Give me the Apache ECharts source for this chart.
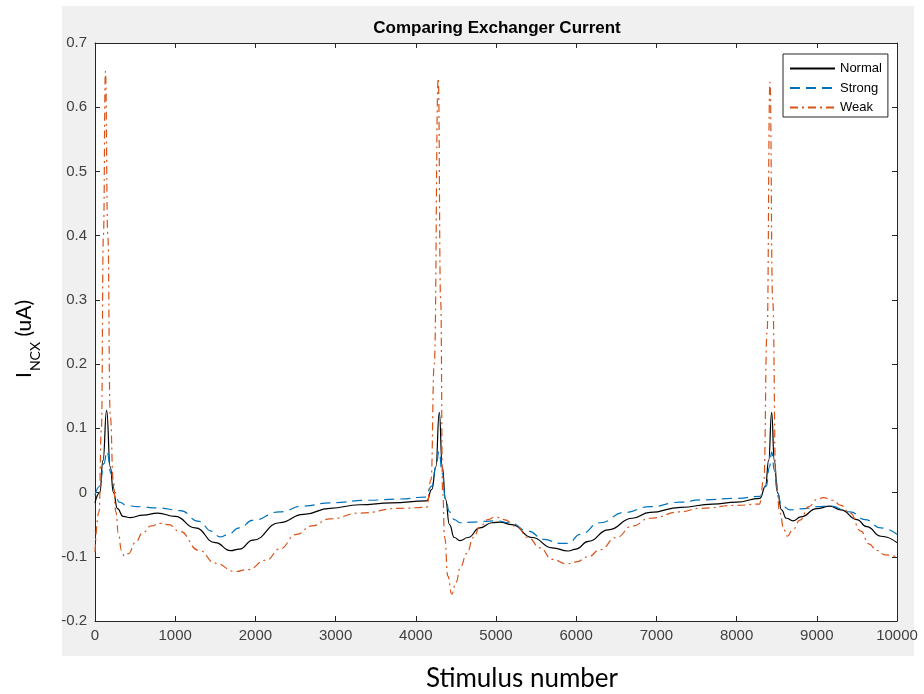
<!DOCTYPE html>
<html>
<head>
<meta charset="utf-8">
<title>Comparing Exchanger Current</title>
<script src="https://cdn.jsdelivr.net/npm/echarts@6/dist/echarts.min.js"></script>
<style>
  html, body { margin: 0; padding: 0; background: #fff; }
  #chart { width: 924px; height: 694px; }
</style>
</head>
<body>
<div id="chart"></div>
<script>
// Exchanger current (I_NCX, uA) versus stimulus number for three exchanger strengths.
const seriesNames = ['Normal', 'Strong', 'Weak'];

const normalX = [0, 60, 100, 145, 190, 230, 280, 350, 440, 600, 780, 1000, 1250, 1500, 1690, 1800, 1970, 2300, 2600, 2930, 3300, 3700, 4136, 4200, 4250, 4293, 4330, 4370, 4420, 4480, 4551, 4650, 4800, 4950, 5050, 5200, 5450, 5700, 5900, 6000, 6150, 6400, 6700, 6920, 7300, 7700, 8000, 8292, 8360, 8400, 8437, 8470, 8510, 8560, 8620, 8707, 8800, 9000, 9164, 9300, 9500, 9622, 9800, 10000];
const normalY = [-0.016, 0.0, 0.05, 0.128, 0.04, 0.0, -0.025, -0.037, -0.039, -0.035, -0.032, -0.037, -0.055, -0.078, -0.0905, -0.088, -0.074, -0.047, -0.034, -0.0245, -0.019, -0.016, -0.013, 0.005, 0.04, 0.125, 0.04, -0.01, -0.05, -0.07, -0.075, -0.07, -0.055, -0.047, -0.046, -0.05, -0.07, -0.086, -0.091, -0.088, -0.076, -0.058, -0.04, -0.031, -0.023, -0.018, -0.015, -0.009, 0.01, 0.05, 0.125, 0.05, 0.0, -0.027, -0.04, -0.044, -0.038, -0.025, -0.021, -0.027, -0.042, -0.053, -0.068, -0.078];

const strongX = [0, 60, 110, 150, 200, 250, 300, 400, 520, 800, 1060, 1300, 1450, 1559, 1650, 1800, 1970, 2300, 2600, 2930, 3400, 3803, 4115, 4200, 4250, 4290, 4330, 4370, 4420, 4480, 4551, 4700, 4838, 5000, 5174, 5400, 5600, 5800, 5900, 6050, 6297, 6600, 6920, 7300, 7544, 8000, 8292, 8370, 8410, 8437, 8470, 8510, 8560, 8666, 8850, 9000, 9164, 9414, 9600, 9800, 10000];
const strongY = [-0.004, 0.01, 0.045, 0.064, 0.03, 0.0, -0.015, -0.02, -0.022, -0.024, -0.028, -0.045, -0.06, -0.069, -0.066, -0.055, -0.043, -0.03, -0.021, -0.016, -0.012, -0.01, -0.007, 0.01, 0.04, 0.064, 0.03, -0.01, -0.03, -0.042, -0.047, -0.046, -0.045, -0.044, -0.047, -0.06, -0.073, -0.079, -0.079, -0.065, -0.047, -0.031, -0.022, -0.015, -0.0115, -0.009, -0.006, 0.01, 0.04, 0.063, 0.035, 0.0, -0.02, -0.027, -0.025, -0.022, -0.021, -0.03, -0.042, -0.055, -0.065];

const weakX = [0, 50, 80, 105, 130, 160, 190, 228, 260, 291, 330, 366, 420, 500, 600, 700, 810, 920, 1050, 1300, 1500, 1746, 1900, 2141, 2300, 2515, 2700, 2930, 3300, 3803, 4136, 4190, 4230, 4280, 4310, 4335, 4360, 4400, 4448, 4500, 4560, 4634, 4720, 4800, 4900, 4988, 5100, 5258, 5400, 5549, 5700, 5881, 6000, 6150, 6297, 6500, 6700, 6920, 7300, 7544, 8000, 8283, 8340, 8380, 8416, 8450, 8490, 8541, 8590, 8632, 8700, 8790, 8900, 9000, 9081, 9200, 9300, 9414, 9550, 9650, 9747, 9850, 10000];
const weakY = [-0.093, -0.03, 0.1, 0.4, 0.656, 0.4, 0.12, 0.02, -0.03, -0.063, -0.09, -0.099, -0.095, -0.078, -0.062, -0.052, -0.048, -0.05, -0.06, -0.09, -0.11, -0.123, -0.12, -0.105, -0.088, -0.065, -0.052, -0.041, -0.032, -0.0245, -0.023, 0.02, 0.2, 0.645, 0.3, 0.0, -0.07, -0.13, -0.158, -0.14, -0.115, -0.095, -0.07, -0.053, -0.042, -0.038, -0.042, -0.053, -0.07, -0.086, -0.104, -0.111, -0.108, -0.1, -0.089, -0.07, -0.052, -0.04, -0.03, -0.0245, -0.02, -0.018, 0.02, 0.25, 0.639, 0.3, 0.02, -0.032, -0.058, -0.068, -0.058, -0.043, -0.022, -0.011, -0.008, -0.012, -0.02, -0.032, -0.06, -0.08, -0.09, -0.097, -0.1];

const xMin = 0, xMax = 10000, xStep = 1000;
const yMin = -0.2, yMax = 0.7, yStep = 0.1;

const titleText = 'Comparing Exchanger Current';
const xAxisTitle = 'Stimulus number';

const pairs = (xs, ys) => xs.map((x, i) => [x, ys[i]]);

const chart = echarts.init(document.getElementById('chart'), null, { renderer: 'canvas' });

const grid = { left: 95, right: 27, top: 43, bottom: 73 };
const plotCenterX = grid.left + (924 - grid.left - grid.right) / 2;

// canvas text measurement for the composed y-axis title
const measureCtx = document.createElement('canvas').getContext('2d');
function textWidth(str, font) { measureCtx.font = font; return measureCtx.measureText(str).width; }

const bigFont = '21px Lato';
const subFont = '14px Lato';
const wI = textWidth('I', bigFont);
const wSub = textWidth('NCX', subFont);

const axisColor = '#262626';
const tickLabel = { fontFamily: 'Liberation Sans, Arial, sans-serif', fontSize: 15, color: '#404040' };

function boxAxis(base, extra) { return Object.assign({}, base, extra); }

const xBase = {
  type: 'value', min: xMin, max: xMax, interval: xStep,
  axisLine: { show: true, onZero: false, lineStyle: { color: axisColor, width: 1 } },
  axisTick: { show: true, inside: true, length: 5, lineStyle: { color: axisColor } },
  splitLine: { show: false }
};
const yBase = {
  type: 'value', min: yMin, max: yMax, interval: yStep,
  axisLine: { show: true, onZero: false, lineStyle: { color: axisColor, width: 1 } },
  axisTick: { show: true, inside: true, length: 5, lineStyle: { color: axisColor } },
  splitLine: { show: false }
};

const option = {
  backgroundColor: '#ffffff',
  animation: false,
  grid: Object.assign({ show: true, backgroundColor: '#ffffff', borderWidth: 0 }, grid),
  xAxis: [
    boxAxis(xBase, { position: 'bottom', axisLabel: Object.assign({ margin: 7, formatter: v => String(v) }, tickLabel) }),
    boxAxis(xBase, { position: 'top', axisLabel: { show: false } })
  ],
  yAxis: [
    boxAxis(yBase, { position: 'left', axisLabel: Object.assign({ margin: 8, formatter: v => String(Number(v.toFixed(1))) }, tickLabel) }),
    boxAxis(yBase, { position: 'right', axisLabel: { show: false } })
  ],
  legend: {
    show: true, orient: 'vertical', left: 783, top: 54, z: 10,
    padding: [8, 6, 3, 6], itemGap: 6.5, itemWidth: 45, itemHeight: 14,
    itemStyle: { opacity: 0 },
    backgroundColor: '#ffffff', borderColor: axisColor, borderWidth: 1, borderRadius: 0,
    textStyle: { fontFamily: 'Liberation Sans, Arial, sans-serif', fontSize: 13, color: '#000' },
    data: seriesNames
  },
  graphic: [
    { type: 'rect', z: -100, silent: true, shape: { x: 62, y: 6, width: 852, height: 650 }, style: { fill: '#f0f0f0' } },
    { type: 'text', x: plotCenterX + 1, y: 28, silent: true,
      style: { text: titleText, font: 'bold 17px Liberation Sans, Arial, sans-serif', fill: '#000', textAlign: 'center', textVerticalAlign: 'middle' } },
    { type: 'text', x: 522, y: 679, silent: true,
      style: { text: xAxisTitle, font: '26px Lato', fill: '#000', textAlign: 'center', textVerticalAlign: 'middle' } },
    { type: 'group', x: 31, y: 378, rotation: Math.PI / 2, silent: true,
      children: [
        { type: 'text', x: 0, y: -7, style: { text: 'I', font: bigFont, fill: '#000', textAlign: 'left', textVerticalAlign: 'middle' } },
        { type: 'text', x: wI + 1, y: 4, style: { text: 'NCX', font: subFont, fill: '#000', textAlign: 'left', textVerticalAlign: 'middle' } },
        { type: 'text', x: wI + wSub + 1, y: -7, style: { text: ' (uA)', font: bigFont, fill: '#000', textAlign: 'left', textVerticalAlign: 'middle' } }
      ]
    }
  ],
  series: [
    { name: 'Normal', type: 'line', data: pairs(normalX, normalY), showSymbol: false, symbol: 'none',
      smooth: 0.5, smoothMonotone: 'x', z: 3,
      lineStyle: { color: '#000000', width: 1.2, type: 'solid' }, itemStyle: { color: '#000000' } },
    { name: 'Strong', type: 'line', data: pairs(strongX, strongY), showSymbol: false, symbol: 'none',
      smooth: 0.5, smoothMonotone: 'x', z: 4,
      lineStyle: { color: '#0072BD', width: 1.2, type: [10, 6] }, itemStyle: { color: '#0072BD' } },
    { name: 'Weak', type: 'line', data: pairs(weakX, weakY), showSymbol: false, symbol: 'none',
      smooth: 0.5, smoothMonotone: 'x', z: 5,
      lineStyle: { color: '#D95319', width: 1.2, type: [8, 4, 2, 4] }, itemStyle: { color: '#D95319' } }
  ]
};

chart.setOption(option);
</script>
</body>
</html>
